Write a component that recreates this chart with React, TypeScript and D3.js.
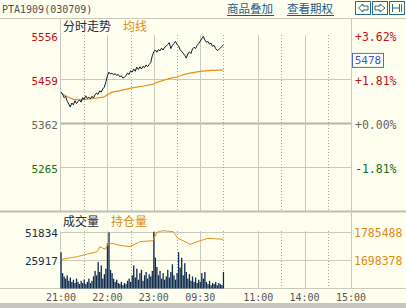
import React from 'react';
import * as d3 from 'd3';

const W = 406;
const H = 308;

// axis ticks
const priceTicks = [5556, 5459, 5362, 5265];
const pctLabels = ['+3.62%', '+1.81%', '+0.00%', '-1.81%'];
const volTicks = [51834, 25917];
const oiTicks = [1785488, 1698378];
const timeTickMinutes = [0, 60, 120, 180, 255, 315, 375];
const timeTickLabels = ['21:00', '22:00', '23:00', '09:30', '11:00', '14:00', '15:00'];
const solidGridMinutes = [60, 120, 180, 255, 315];
const dottedGridMinutes = [30, 90, 150, 210, 285, 345];
const avgPriceLabel = 5478;

// price series (every 2 trading minutes from 21:00)
const priceMinutes = d3.range(0, 211, 2);
const priceVals = [
  5430, 5426, 5418, 5421, 5410, 5404, 5397, 5406, 5402, 5411,
  5405, 5409, 5413, 5408, 5418, 5414, 5422, 5416, 5419, 5415,
  5421, 5417, 5424, 5428, 5425, 5433, 5430, 5437, 5441, 5452,
  5466, 5474, 5470, 5472, 5468, 5471, 5467, 5469, 5464, 5466,
  5461, 5463, 5466, 5472, 5469, 5477, 5474, 5481, 5476, 5485,
  5480, 5486, 5481, 5487, 5484, 5490, 5486, 5491, 5495, 5510,
  5519, 5523, 5518, 5524, 5521, 5527, 5523, 5529, 5531, 5535,
  5539, 5526, 5533, 5537, 5542, 5535, 5532, 5524, 5520, 5516,
  5511, 5505, 5514, 5519, 5515, 5525, 5529, 5526, 5533, 5537,
  5542, 5548, 5553, 5545, 5540, 5542, 5536, 5538, 5531, 5533,
  5526, 5522, 5524, 5527, 5531, 5534,
];

// average price line
const avgMinutes = [0, 8, 16, 25, 32, 42, 55, 60, 66, 75, 90, 105, 118, 125, 140, 150, 163, 180, 195, 210];
const avgVals = [5428, 5420, 5414, 5413, 5414, 5416, 5419, 5424, 5430, 5433, 5439, 5443, 5447, 5452, 5460, 5464, 5471, 5476, 5478, 5479];

// volume (every 2 minutes)
const volVals = [
  33000, 14000, 11000, 9000, 12000, 7000, 10000, 6000, 8000, 5000,
  9000, 6000, 4000, 7000, 5000, 8000, 4000, 6000, 9000, 5000,
  7000, 11000, 16000, 12000, 24000, 15000, 21000, 9000, 13000, 18000,
  41000, 51000, 17000, 14000, 9000, 6000, 8000, 5000, 4000, 6000,
  3000, 5000, 4000, 7000, 9000, 6000, 12000, 21000, 10000, 18000,
  8000, 14000, 17000, 7000, 12000, 15000, 9000, 13000, 11000, 16000,
  51500, 28000, 19600, 12000, 16000, 9000, 14000, 8000, 11000, 17000,
  10000, 15000, 22000, 12000, 8000, 14000, 33000, 19000, 28000, 12000,
  23000, 15000, 9000, 13000, 7000, 11000, 6000, 10000, 5000, 8000,
  6000, 14000, 9000, 15000, 6000, 4000, 7000, 3000, 5000, 4000,
  6000, 3000, 5000, 4000, 3000, 15000,
];

// open interest
const oiMinutes = [1, 21, 34, 47, 50, 57, 61, 67, 74, 89, 102, 119, 124, 132, 145, 151, 158, 167, 180, 190, 210];
const oiVals = [1700500, 1708500, 1716700, 1723700, 1739000, 1731000, 1747300, 1749400, 1744200, 1739000, 1754300, 1757400, 1783000, 1788000, 1785000, 1764700, 1757400, 1746400, 1757400, 1764700, 1761600];

const MONO = '"DejaVu Sans Mono", monospace';
const CJK = '"Noto Sans CJK SC", sans-serif';

export default function App() {
  const left = 61, right = 351;
  const x = d3.scaleLinear().domain([0, 375]).range([left, right]);
  const yP = d3.scaleLinear().domain([5168, 5556]).range([211, 35]);
  const yV = d3.scaleLinear().domain([0, 51834]).range([288.5, 231.5]);
  const yOI = d3.scaleLinear().domain([1698378, 1785488]).range([260, 231.5]);

  const priceLine = d3.line<number>().x((_, i) => x(priceMinutes[i])).y((d) => yP(d));
  const avgLine = d3.line<number>().x((_, i) => x(avgMinutes[i])).y((d) => yP(d));
  const oiLine = d3.line<number>().x((_, i) => x(oiMinutes[i])).y((d) => yOI(d));

  const priceColors = ['#c0101a', '#c0101a', '#666666', '#107010'];
  const gridC = '#c9c9bd';
  const dotC = '#a8a8a0';

  const boxY = yP(avgPriceLabel) - 17;

  return (
    <svg width={W} height={H} style={{ position: 'absolute', left: 0, top: 0, background: '#fffff0' }}>
      <rect x={0} y={0} width={W} height={H} fill="#fffff0" />
      {/* title */}
      <text x={2} y={13} fontFamily={MONO} fontSize={10} fill="#505050">PTA1909(030709)</text>
      <text x={227} y={13} fontFamily={CJK} fontSize={11.5} fill="#1a5a86">商品叠加</text>
      <line x1={227} x2={274} y1={15.5} y2={15.5} stroke="#1a5a86" />
      <text x={287} y={13} fontFamily={CJK} fontSize={11.5} fill="#1a5a86">查看期权</text>
      <line x1={287} x2={334} y1={15.5} y2={15.5} stroke="#1a5a86" />
      {/* icons */}
      <g stroke="#2a6a90" fill="none" strokeWidth={1}>
        <rect x={355.5} y={1.5} width={15} height={13} />
        <path d="M358.5,8 L363,4 L363,6 L368,6 L368,10 L363,10 L363,12 Z" />
        <rect x={372.5} y={1.5} width={15} height={13} />
        <path d="M385,8 L380,4 L380,6 L375,6 L375,10 L380,10 L380,12 Z" />
        <rect x={389.5} y={1.5} width={15} height={13} />
        <path d="M392.5,4 L392.5,12 M392.5,8 L399,8 M399.5,4 L399.5,12 M401.5,4 L401.5,12" />
      </g>

      {/* frame lines */}
      <line x1={0} x2={W} y1={18.5} y2={18.5} stroke={gridC} />
      <line x1={0} x2={W} y1={211.5} y2={211.5} stroke="#bdbdb3" strokeWidth={2} />
      <line x1={0} x2={W} y1={288.5} y2={288.5} stroke={gridC} />
      <line x1={left - 0.5} x2={left - 0.5} y1={18} y2={211} stroke={gridC} />
      <line x1={left - 0.5} x2={left - 0.5} y1={231} y2={288} stroke={gridC} />
      <line x1={right + 0.5} x2={right + 0.5} y1={18} y2={288} stroke={gridC} />

      {/* main grid */}
      {priceTicks.slice(1).map((p, i) => (
        <line key={'hp' + i} x1={left} x2={right} y1={Math.round(yP(p)) + 0.5} y2={Math.round(yP(p)) + 0.5}
          stroke={p === 5362 ? '#b5b5ad' : gridC} strokeWidth={p === 5362 ? 2 : 1} />
      ))}
      {solidGridMinutes.map((m) => (
        <g key={'sg' + m}>
          <line x1={Math.round(x(m)) + 0.5} x2={Math.round(x(m)) + 0.5} y1={35} y2={211} stroke={gridC} />
          <line x1={Math.round(x(m)) + 0.5} x2={Math.round(x(m)) + 0.5} y1={231} y2={288} stroke={gridC} />
        </g>
      ))}
      {dottedGridMinutes.map((m) => (
        <g key={'dg' + m}>
          <line x1={Math.round(x(m)) + 0.5} x2={Math.round(x(m)) + 0.5} y1={35} y2={211} stroke={dotC} strokeDasharray="1,2" />
          <line x1={Math.round(x(m)) + 0.5} x2={Math.round(x(m)) + 0.5} y1={231} y2={288} stroke={dotC} strokeDasharray="1,2" />
        </g>
      ))}
      {volTicks.map((v, i) => (
        <line key={'hv' + i} x1={left} x2={right} y1={Math.round(yV(v)) + 0.5} y2={Math.round(yV(v)) + 0.5} stroke={gridC} />
      ))}

      {/* headers */}
      <text x={63} y={31} fontFamily={CJK} fontSize={12} fill="#1a2a3a">分时走势</text>
      <text x={123} y={31} fontFamily={CJK} fontSize={12} fill="#e08a10">均线</text>
      <text x={63} y={226} fontFamily={CJK} fontSize={12} fill="#1a2a3a">成交量</text>
      <text x={111} y={226} fontFamily={CJK} fontSize={12} fill="#e08a10">持仓量</text>

      {/* price axis labels */}
      {priceTicks.map((p, i) => (
        <text key={'pl' + i} x={58} y={yP(p) + 6} textAnchor="end" fontFamily={MONO} fontSize={11} fill={priceColors[i]}>{p}</text>
      ))}
      {pctLabels.map((t, i) => (
        <text key={'pc' + i} x={355} y={yP(priceTicks[i]) + 6} fontFamily={MONO} fontSize={11.5} fill={priceColors[i]}>{t}</text>
      ))}
      {volTicks.map((v, i) => (
        <text key={'vl' + i} x={58} y={yV(v) + 5} textAnchor="end" fontFamily={MONO} fontSize={11} fill="#1c2c48">{v}</text>
      ))}
      {oiTicks.map((v, i) => (
        <text key={'ol' + i} x={354} y={yOI(v) + 5} fontFamily={MONO} fontSize={11.5} fill="#e08a10">{v}</text>
      ))}
      {timeTickMinutes.map((m, i) => (
        <text key={'tl' + i} x={x(m)} y={301} textAnchor="middle" fontFamily={MONO} fontSize={10} fill="#555555">{timeTickLabels[i]}</text>
      ))}

      {/* avg price box */}
      <rect x={352.5} y={boxY} width={31} height={14} fill="#fffff8" stroke="#4a6ed0" />
      <text x={368} y={boxY + 11} textAnchor="middle" fontFamily={MONO} fontSize={11} fill="#3a58c8">{avgPriceLabel}</text>

      {/* volume bars */}
      {volVals.map((v, i) => (
        <rect key={'vb' + i} x={x(priceMinutes[i]) - 0.6} y={yV(v)} width={1.3} height={yV(0) - yV(v)} fill="#0c2a4c" />
      ))}
      <path d={oiLine(oiVals) || ''} fill="none" stroke="#e8901a" strokeWidth={1} />

      {/* price & avg lines */}
      <path d={avgLine(avgVals) || ''} fill="none" stroke="#e8901a" strokeWidth={1.2} />
      <path d={priceLine(priceVals) || ''} fill="none" stroke="#0b1b33" strokeWidth={1} />

      {/* bottom bar */}
      <rect x={0} y={303} width={W} height={5} fill="#c6c6be" />
    </svg>
  );
}
